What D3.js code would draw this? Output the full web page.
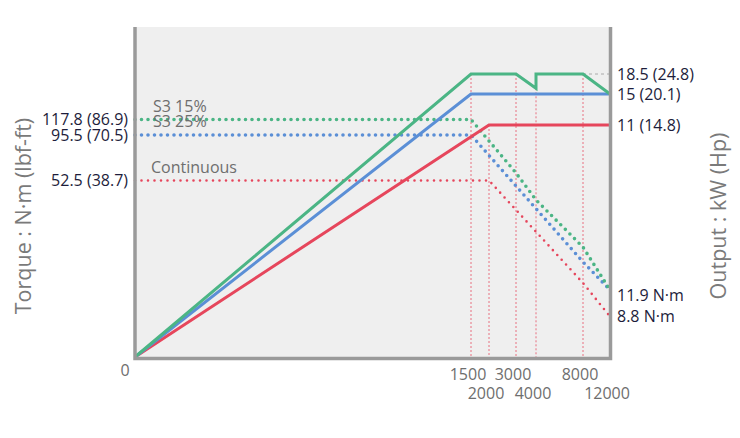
<!DOCTYPE html>
<html>
<head>
<meta charset="utf-8">
<script src="https://cdn.jsdelivr.net/npm/d3@7"></script>
<style>
  body { margin: 0; background: #fff; }
  text { font-family: "Open Sans", sans-serif; }
</style>
</head>
<body>
<div id="chart"></div>
<script>
// speed ticks (rpm)
const rpmTicks = [0, 1500, 2000, 3000, 4000, 8000, 12000];

// output (kW) - solid lines
const greenOutRpm = [0, 1500, 3000, 4000, 4000, 8000, 12000];
const greenOutKw  = [0, 18.5, 18.5, 16.0, 18.5, 18.5, 15];
const blueOutRpm  = [0, 1500, 12000];
const blueOutKw   = [0, 15, 15];
const redOutRpm   = [0, 2000, 12000];
const redOutKw    = [0, 11, 11];

// torque (N·m) - dotted lines
const greenTqRpm = [0, 1500, 3000, 4000, 8000, 12000];
const greenTq    = [117.8, 117.8, 59.6, 45.3, 27.8, 11.9];
const blueTqRpm  = [0, 1500, 8000, 12000];
const blueTq     = [95.5, 95.5, 22.3, 11.9];
const redTqRpm   = [0, 2000, 8000, 12000];
const redTq      = [52.5, 52.5, 14.5, 8.8];

const seriesNames = ['S3 15%', 'S3 25%', 'Continuous'];

const torqueTicks  = [117.8, 95.5, 52.5];
const torqueLabels = ['117.8 (86.9)', '95.5 (70.5)', '52.5 (38.7)'];
const torqueEnds   = [11.9, 8.8];
const torqueEndLabels = ['11.9 N·m', '8.8 N·m'];
const outTicks  = [18.5, 15, 11];
const outLabels = ['18.5 (24.8)', '15 (20.1)', '11 (14.8)'];

// guide lines: speed and the output level where they start
const guideRpm = [1500, 2000, 3000, 4000, 8000];
const guideKw  = [18.5, 11, 18.5, 16.0, 18.5];

const width = 740;
const height = 438;
const GREEN = '#4bb585', BLUE = '#5b8fd6', RED = '#e6465c';
const DARK = '#1d1d3b', GREY = '#6e6e6e';

const svg = d3.select('#chart')
    .append('svg')
        .attr('width', width)
        .attr('height', height);

// the chart is schematic: piecewise scales
const x = d3.scaleLinear()
    .domain(rpmTicks)
    .range([135, 471, 489, 516, 536, 583, 610]);
const yKw = d3.scaleLinear()
    .domain([0, 11, 15, 18.5])
    .range([357, 125, 94, 74]);
const yTq = d3.scaleLinear()
    .domain([0, 8.8, 11.9, 52.5, 95.5, 117.8])
    .range([357, 316.5, 290, 180.5, 135, 119.5]);

svg.append('rect')
    .attr('x', 135).attr('y', 27)
    .attr('width', 475).attr('height', 331)
    .attr('fill', '#efefef');

// guides
svg.selectAll('.guide')
    .data(guideRpm)
    .enter()
    .append('line')
        .attr('class', 'guide')
        .attr('x1', d => x(d)).attr('x2', d => x(d))
        .attr('y1', (d, i) => yKw(guideKw[i]))
        .attr('y2', 357)
        .attr('stroke', RED)
        .attr('stroke-opacity', 0.75)
        .attr('stroke-width', 1)
        .attr('stroke-dasharray', '2 2');

svg.append('line')
    .attr('x1', x(8000)).attr('x2', x(12000))
    .attr('y1', yKw(18.5)).attr('y2', yKw(18.5))
    .attr('stroke', '#aaa')
    .attr('stroke-width', 1)
    .attr('stroke-dasharray', '3 3');

const zip = (a, b) => a.map((v, i) => [v, b[i]]);
const lineTq = d3.line().x(d => x(d[0])).y(d => yTq(d[1]));
const lineKw = d3.line().x(d => x(d[0])).y(d => yKw(d[1]));

const dotted = [
    {data: zip(redTqRpm, redTq), color: RED, w: 2.6},
    {data: zip(blueTqRpm, blueTq), color: BLUE, w: 3.6},
    {data: zip(greenTqRpm, greenTq), color: GREEN, w: 3.6}
];
svg.selectAll('.tq')
    .data(dotted)
    .enter()
    .append('path')
        .attr('class', 'tq')
        .attr('d', d => lineTq(d.data))
        .attr('fill', 'none')
        .attr('stroke', d => d.color)
        .attr('stroke-width', d => d.w)
        .attr('stroke-linecap', 'round')
        .attr('stroke-dasharray', '0 6.5');

const solid = [
    {data: zip(redOutRpm, redOutKw), color: RED},
    {data: zip(blueOutRpm, blueOutKw), color: BLUE},
    {data: zip(greenOutRpm, greenOutKw), color: GREEN}
];
svg.selectAll('.kw')
    .data(solid)
    .enter()
    .append('path')
        .attr('class', 'kw')
        .attr('d', d => lineKw(d.data))
        .attr('fill', 'none')
        .attr('stroke', d => d.color)
        .attr('stroke-width', 3)
        .attr('stroke-linejoin', 'miter');

// frame
svg.append('path')
    .attr('d', 'M135,27V358.5H610.5V27')
    .attr('fill', 'none')
    .attr('stroke', '#9a9a9a')
    .attr('stroke-width', 3.5);

// series names
svg.selectAll('.sname')
    .data(seriesNames)
    .enter()
    .append('text')
        .attr('class', 'sname')
        .attr('x', (d, i) => i === 2 ? 151 : 153)
        .attr('y', (d, i) => yTq(torqueTicks[i]) - 8)
        .attr('font-size', 16)
        .attr('fill', GREY)
        .text(d => d);

// left torque labels
svg.selectAll('.tql')
    .data(torqueTicks)
    .enter()
    .append('text')
        .attr('x', 128)
        .attr('y', d => yTq(d))
        .attr('dy', '0.35em')
        .attr('text-anchor', 'end')
        .attr('font-size', 16)
        .attr('fill', DARK)
        .text((d, i) => torqueLabels[i]);

// right labels
svg.selectAll('.outl')
    .data(outTicks)
    .enter()
    .append('text')
        .attr('x', 617)
        .attr('y', d => yKw(d))
        .attr('dy', '0.35em')
        .attr('font-size', 16)
        .attr('fill', DARK)
        .text((d, i) => outLabels[i]);

svg.selectAll('.tqe')
    .data(torqueEnds)
    .enter()
    .append('text')
        .attr('x', 617)
        .attr('y', (d, i) => yTq(d) + (i === 0 ? 5 : 0))
        .attr('dy', '0.35em')
        .attr('font-size', 16)
        .attr('fill', DARK)
        .text((d, i) => torqueEndLabels[i]);

// x tick labels, staggered in two rows
svg.selectAll('.xt')
    .data(rpmTicks)
    .enter()
    .append('text')
        .attr('x', (d, i) => i === 0 ? 125 : x(d) - 3)
        .attr('y', (d, i) => i === 0 ? 370 : (i % 2 === 1 ? 374 : 393))
        .attr('dy', '0.35em')
        .attr('text-anchor', 'middle')
        .attr('font-size', 16)
        .attr('fill', GREY)
        .text(d => d);

// axis titles
svg.append('text')
    .attr('transform', 'translate(23,216) rotate(-90)')
    .attr('text-anchor', 'middle')
    .attr('dy', '0.35em')
    .attr('font-size', 21.5)
    .attr('fill', '#7a7a7a')
    .text('Torque : N·m (lbf-ft)');

svg.append('text')
    .attr('transform', 'translate(718,216) rotate(-90)')
    .attr('text-anchor', 'middle')
    .attr('dy', '0.35em')
    .attr('font-size', 21.5)
    .attr('fill', '#7a7a7a')
    .text('Output : kW (Hp)');
</script>
</body>
</html>
